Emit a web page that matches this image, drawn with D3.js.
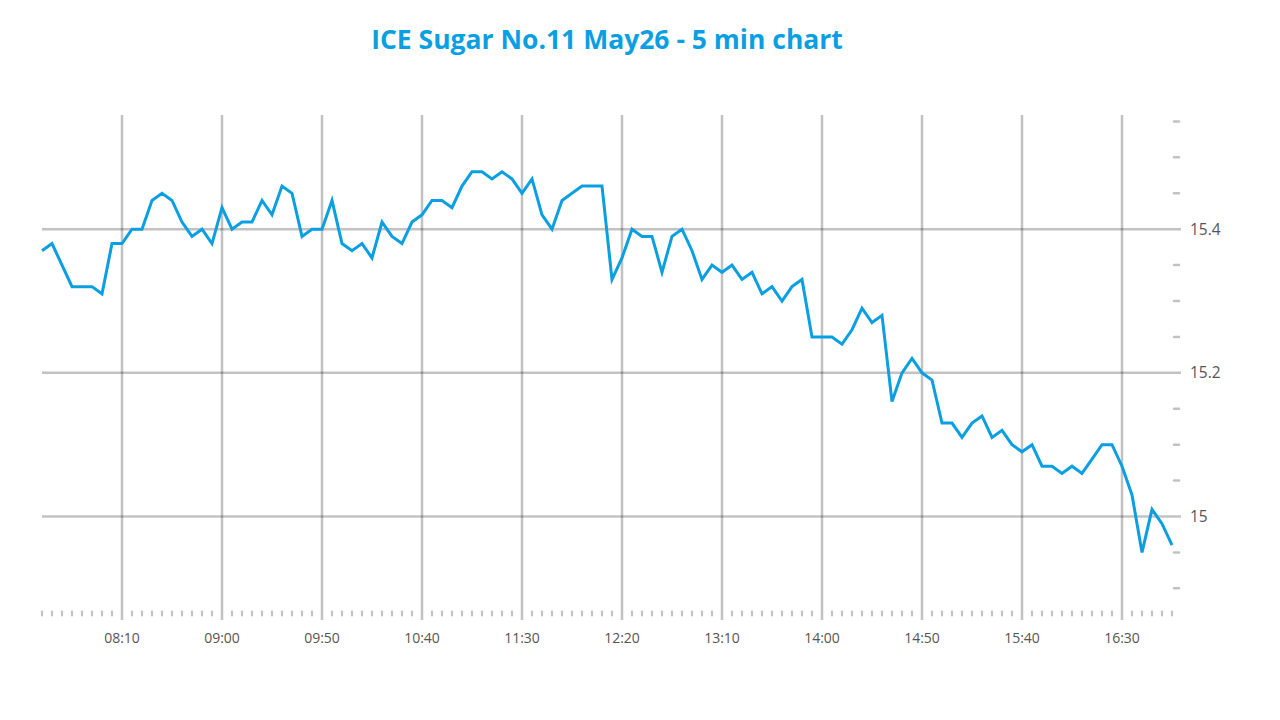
<!DOCTYPE html>
<html>
<head>
<meta charset="utf-8">
<script src="https://cdn.jsdelivr.net/npm/d3@7"></script>
<style>
  body { margin: 0; background: #fff; }
  svg { display: block; font-family: "Open Sans", sans-serif; }
</style>
</head>
<body>
<div id="chart"></div>
<script>
// 5-minute closes, 07:30 .. 16:55
const startTime = "07:30";
const prices = [
  15.37, 15.38, 15.35, 15.32, 15.32, 15.32, 15.31, 15.38, 15.38, 15.40,
  15.40, 15.44, 15.45, 15.44, 15.41, 15.39, 15.40, 15.38, 15.43, 15.40,
  15.41, 15.41, 15.44, 15.42, 15.46, 15.45, 15.39, 15.40, 15.40, 15.44,
  15.38, 15.37, 15.38, 15.36, 15.41, 15.39, 15.38, 15.41, 15.42, 15.44,
  15.44, 15.43, 15.46, 15.48, 15.48, 15.47, 15.48, 15.47, 15.45, 15.47,
  15.42, 15.40, 15.44, 15.45, 15.46, 15.46, 15.46, 15.33, 15.36, 15.40,
  15.39, 15.39, 15.34, 15.39, 15.40, 15.37, 15.33, 15.35, 15.34, 15.35,
  15.33, 15.34, 15.31, 15.32, 15.30, 15.32, 15.33, 15.25, 15.25, 15.25,
  15.24, 15.26, 15.29, 15.27, 15.28, 15.16, 15.20, 15.22, 15.20, 15.19,
  15.13, 15.13, 15.11, 15.13, 15.14, 15.11, 15.12, 15.10, 15.09, 15.10,
  15.07, 15.07, 15.06, 15.07, 15.06, 15.08, 15.10, 15.10, 15.07, 15.03,
  14.95, 15.01, 14.99, 14.96
];
const xTickLabels = ["08:10", "09:00", "09:50", "10:40", "11:30", "12:20", "13:10", "14:00", "14:50", "15:40", "16:30"];
const yMajorTicks = [15.0, 15.2, 15.4];
const yMinorTicks = [14.9, 14.95, 15.05, 15.1, 15.15, 15.25, 15.3, 15.35, 15.45, 15.5, 15.55];
const title = "ICE Sugar No.11 May26 - 5 min chart";

const width = 1280, height = 720;
const parse = d3.timeParse("%H:%M");
const t0 = parse(startTime);
const data = prices.map((v, i) => ({ t: d3.timeMinute.offset(t0, i * 5), v }));

const svg = d3.select("#chart").append("svg")
  .attr("width", width)
  .attr("height", height);

const x = d3.scaleTime()
  .domain([data[0].t, data[data.length - 1].t])
  .range([42, 1172]);

const y = d3.scaleLinear()
  .domain([14.867, 15.559])
  .range([612, 115]);

const grid = "rgba(0,0,0,0.24)";
const lineColor = "#0a9fe2";

// title
svg.append("text")
  .attr("x", 607)
  .attr("y", 49)
  .attr("text-anchor", "middle")
  .attr("font-size", 26.5)
  .attr("font-weight", "bold")
  .attr("fill", lineColor)
  .text(title);

// horizontal grid
svg.append("g")
  .selectAll("line")
  .data(yMajorTicks)
  .join("line")
    .attr("x1", 42).attr("x2", 1181)
    .attr("y1", d => y(d)).attr("y2", d => y(d))
    .attr("stroke", grid)
    .attr("stroke-width", 2.5);

// minor y ticks
svg.append("g")
  .selectAll("line")
  .data(yMinorTicks)
  .join("line")
    .attr("x1", 1174).attr("x2", 1179)
    .attr("y1", d => y(d)).attr("y2", d => y(d))
    .attr("stroke", grid)
    .attr("stroke-width", 2.5)
    .attr("stroke-linecap", "round");

// y labels
svg.append("g")
  .selectAll("text")
  .data(yMajorTicks)
  .join("text")
    .attr("x", 1190)
    .attr("y", d => y(d))
    .attr("dy", "0.35em")
    .attr("font-size", 15.5)
    .attr("fill", "#555")
    .text(d3.format("~g"));

// vertical grid
const xMajor = xTickLabels.map(parse);
svg.append("g")
  .selectAll("line")
  .data(xMajor)
  .join("line")
    .attr("x1", d => x(d)).attr("x2", d => x(d))
    .attr("y1", 115).attr("y2", 620)
    .attr("stroke", grid)
    .attr("stroke-width", 2.5);

// minor x ticks every 5 minutes
svg.append("g")
  .selectAll("line")
  .data(data.filter(d => !xTickLabels.includes(d3.timeFormat("%H:%M")(d.t))))
  .join("line")
    .attr("x1", d => x(d.t)).attr("x2", d => x(d.t))
    .attr("y1", 611.5).attr("y2", 615.5)
    .attr("stroke", grid)
    .attr("stroke-width", 2.2)
    .attr("stroke-linecap", "round");

// x labels
svg.append("g")
  .selectAll("text")
  .data(xMajor)
  .join("text")
    .attr("x", d => x(d))
    .attr("y", 643)
    .attr("text-anchor", "middle")
    .attr("font-size", 14)
    .attr("fill", "#555")
    .text(d3.timeFormat("%H:%M"));

// price line
const line = d3.line()
  .x(d => x(d.t))
  .y(d => y(d.v));

svg.append("path")
  .datum(data)
  .attr("d", line)
  .attr("fill", "none")
  .attr("stroke", lineColor)
  .attr("stroke-width", 3)
  .attr("stroke-linejoin", "miter");
</script>
</body>
</html>
